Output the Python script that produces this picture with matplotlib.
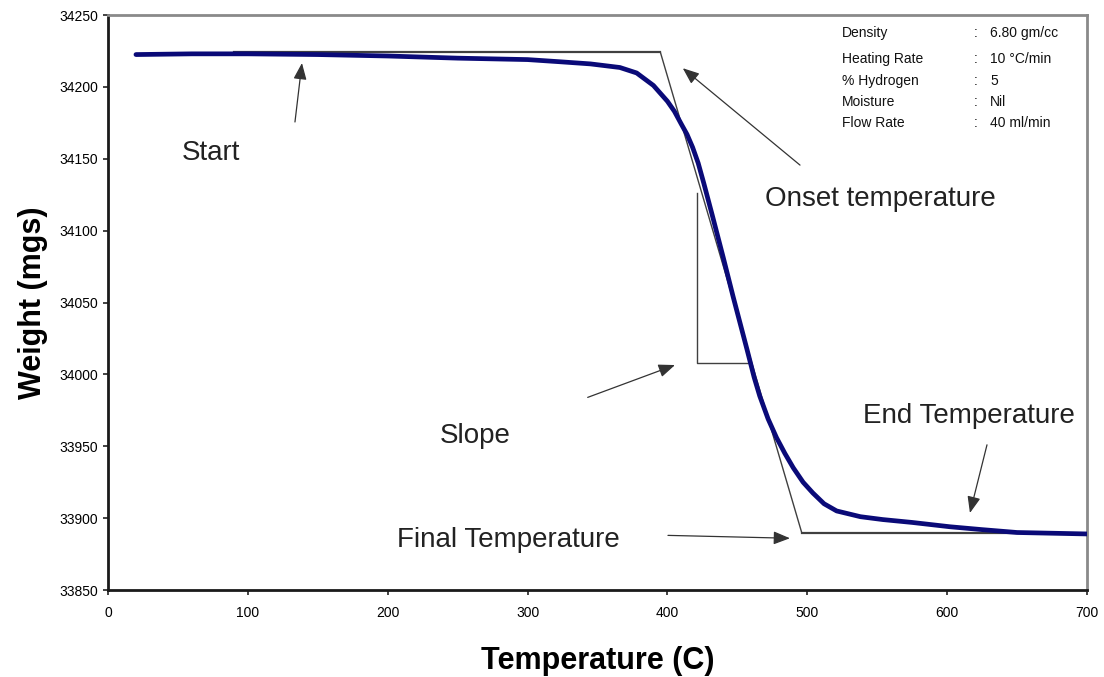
import matplotlib
matplotlib.use("Agg")
import matplotlib.pyplot as plt

# Thermogravimetric curve: temperature (C) vs. sample weight (mg)
temperature = [20, 60, 100, 150, 200, 250, 300, 323, 345, 366, 378, 390, 400, 405,
               410, 414, 418, 422, 426, 432, 440, 447, 457, 462, 466, 472, 478,
               484, 490, 497, 504, 512, 521, 538, 554, 575, 602, 625, 650, 675, 700]
weight = [34222.5, 34223, 34223, 34222.5, 34221.5, 34220, 34219, 34217.5, 34216,
          34213.5, 34209.7, 34201, 34190, 34183, 34174, 34167, 34158, 34147, 34133,
          34111, 34081, 34054, 34017, 33998, 33985, 33969, 33956, 33945, 33935,
          33925, 33917.5, 33910, 33905, 33901, 33899, 33897, 33894, 33892, 33890,
          33889.5, 33889]

# Construction lines: baseline, onset tangent, final plateau and slope triangle
baseline_x = [90, 395]
baseline_y = [34224, 34224]
tangent_x = [395, 496]
tangent_y = [34224, 33890]
plateau_x = [496, 661]
plateau_y = [33890, 33890]
slope_x = [421.4, 421.4, 457.8]
slope_y = [34126, 34008, 34008]

# Annotations: (text, text position, arrow tail, arrow head)
notes = [
    ("Start", (52.9, 34154), (133.7, 34175.6), (138.7, 34216.6)),
    ("Onset temperature", (469.8, 34122), (494.8, 34145.6), (411.0, 34213.0)),
    ("Slope", (237.4, 33957), (343.0, 33984.0), (405.4, 34006.5)),
    ("End Temperature", (539.8, 33971), (628.5, 33951.0), (616.3, 33903.6)),
    ("Final Temperature", (206.6, 33885), (400.4, 33888.0), (487.6, 33886.0)),
]

info_labels = ["Density", "Heating Rate", "% Hydrogen", "Moisture", "Flow Rate"]
info_values = ["6.80 gm/cc", "10 \u00b0C/min", "5", "Nil", "40 ml/min"]

x_ticks = [0, 100, 200, 300, 400, 500, 600, 700]
y_ticks = [33850, 33900, 33950, 34000, 34050, 34100, 34150, 34200, 34250]

plt.rcParams['font.family'] = ['Liberation Sans', 'DejaVu Sans']

fig = plt.figure(figsize=(11.04, 6.77), dpi=100)
ax = fig.add_axes([0.0978, 0.1285, 0.8868, 0.8493])
ax.set_xlim(0, 700)
ax.set_ylim(33850, 34250)

ax.plot(baseline_x, baseline_y, color="#404040", lw=1.6, zorder=2)
ax.plot(tangent_x, tangent_y, color="#404040", lw=1.0, zorder=2)
ax.plot(plateau_x, plateau_y, color="#404040", lw=1.6, zorder=2)
ax.plot(slope_x, slope_y, color="#404040", lw=1.0, zorder=2)
ax.plot(temperature, weight, color="#0a0a78", lw=3.4, zorder=3,
        solid_capstyle="round", solid_joinstyle="round")

for text, pos, tail, head in notes:
    ax.text(pos[0], pos[1], text, fontsize=20, color="#222222", va="center", ha="left")
    ax.annotate("", xy=head, xytext=tail,
                arrowprops=dict(arrowstyle="-|>,head_length=1.0,head_width=0.4",
                                color="#333333", lw=0.9, shrinkA=0, shrinkB=0))

# Test conditions block in the upper right corner (axes-fraction positions)
row_frac = [0.968, 0.923, 0.885, 0.849, 0.812]
for lab, val, yy in zip(info_labels, info_values, row_frac):
    ax.text(0.750, yy, lab, transform=ax.transAxes, fontsize=10,
            va="center", ha="left", color="#111111")
    ax.text(0.884, yy, ":", transform=ax.transAxes, fontsize=10,
            va="center", ha="left", color="#111111")
    ax.text(0.901, yy, val, transform=ax.transAxes, fontsize=10,
            va="center", ha="left", color="#111111")

ax.set_xticks(x_ticks)
ax.set_yticks(y_ticks)
ax.set_xticklabels([str(v) for v in x_ticks], fontsize=10)
ax.set_yticklabels([str(v) for v in y_ticks], fontsize=10)
ax.tick_params(direction="out", length=3.5, width=1.2, color="#222222")
ax.tick_params(axis="x", pad=8)
ax.tick_params(axis="y", pad=3.5)

for side in ("left", "bottom"):
    ax.spines[side].set_color("#1a1a1a")
    ax.spines[side].set_linewidth(2.0)
for side in ("top", "right"):
    ax.spines[side].set_color("#8a8a8a")
    ax.spines[side].set_linewidth(2.0)

ax.set_xlabel("Temperature (C)", fontsize=22, fontweight="bold", labelpad=19)
ax.set_ylabel("Weight (mgs)", fontsize=22, fontweight="bold", labelpad=8)

fig.savefig("out.png", dpi=100)
